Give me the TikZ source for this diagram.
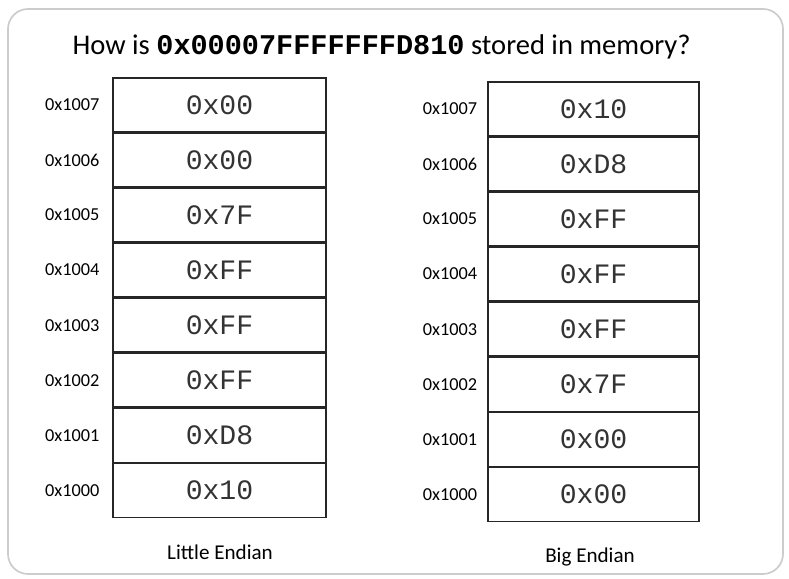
\documentclass[tikz,border=0pt]{standalone}
\usepackage{fontspec}
\setmainfont{Carlito}
\setmonofont{Liberation Mono}
\usetikzlibrary{positioning}

\begin{document}
\begin{tikzpicture}[
        cell/.style={draw=black!85, line width=0.9pt, inner sep=0pt, minimum height=1.345cm, text=black!80, font=\ttfamily\fontsize{20}{20}\selectfont},
        lcell/.style={cell, minimum width=5.325cm},
        rcell/.style={cell, minimum width=5.275cm},
        addr/.style={font=\fontsize{13}{13}\selectfont},
        caption/.style={font=\fontsize{15}{15}\selectfont}
    ]
    \useasboundingbox (0,0) rectangle (19.725,14.475);

    % ========================================================
    % FRAME AND TITLE
    % ========================================================
    \draw[black!20, line width=1.2pt, rounded corners=5mm] (0.2,0.125) rectangle (19.575,14.25);
    \node[font=\fontsize{20.3}{20.3}\selectfont] (title) at (9.54,13.3)
        {How is \texttt{\textbf{0x00007FFFFFFFD810}} stored in memory?};

    % ========================================================
    % LITTLE ENDIAN (LEFT)
    % ========================================================
    \node[lcell] (le7) at (5.4875,11.853) {0x00};
    \node[lcell, below=0pt of le7] (le6) {0x00};
    \node[lcell, below=0pt of le6] (le5) {0x7F};
    \node[lcell, below=0pt of le5] (le4) {0xFF};
    \node[lcell, below=0pt of le4] (le3) {0xFF};
    \node[lcell, below=0pt of le3] (le2) {0xFF};
    \node[lcell, below=0pt of le2] (le1) {0xD8};
    \node[lcell, below=0pt of le1] (le0) {0x10};

    % Adressen
    \node[addr, left=2mm of le7] (la7) {0x1007};
    \node[addr, left=2mm of le6] (la6) {0x1006};
    \node[addr, left=2mm of le5] (la5) {0x1005};
    \node[addr, left=2mm of le4] (la4) {0x1004};
    \node[addr, left=2mm of le3] (la3) {0x1003};
    \node[addr, left=2mm of le2] (la2) {0x1002};
    \node[addr, left=2mm of le1] (la1) {0x1001};
    \node[addr, left=2mm of le0] (la0) {0x1000};

    \node[caption] (little) at (5.5,0.675) {Little Endian};

    % ========================================================
    % BIG ENDIAN (RIGHT)
    % ========================================================
    \node[rcell] (be7) at (14.8375,11.752) {0x10};
    \node[rcell, below=0pt of be7] (be6) {0xD8};
    \node[rcell, below=0pt of be6] (be5) {0xFF};
    \node[rcell, below=0pt of be5] (be4) {0xFF};
    \node[rcell, below=0pt of be4] (be3) {0xFF};
    \node[rcell, below=0pt of be3] (be2) {0x7F};
    \node[rcell, below=0pt of be2] (be1) {0x00};
    \node[rcell, below=0pt of be1] (be0) {0x00};

    % Adressen
    \node[addr, left=1.3mm of be7] (ba7) {0x1007};
    \node[addr, left=1.3mm of be6] (ba6) {0x1006};
    \node[addr, left=1.3mm of be5] (ba5) {0x1005};
    \node[addr, left=1.3mm of be4] (ba4) {0x1004};
    \node[addr, left=1.3mm of be3] (ba3) {0x1003};
    \node[addr, left=1.3mm of be2] (ba2) {0x1002};
    \node[addr, left=1.3mm of be1] (ba1) {0x1001};
    \node[addr, left=1.3mm of be0] (ba0) {0x1000};

    \node[caption] (big) at (14.75,0.55) {Big Endian};

\end{tikzpicture}
\end{document}
